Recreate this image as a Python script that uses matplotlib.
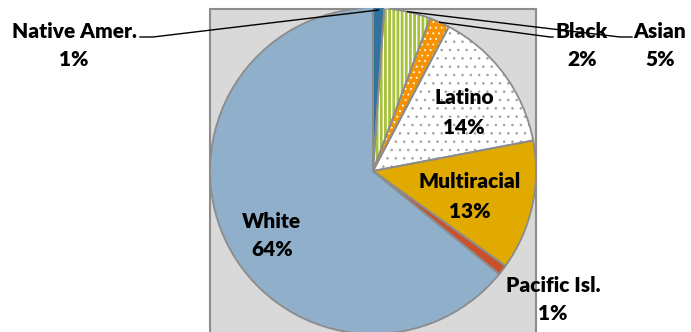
import matplotlib
matplotlib.use("Agg")
import matplotlib.pyplot as plt
from matplotlib.patches import Rectangle, Wedge
import numpy as np

groups = ['Native Amer.', 'Asian', 'Black', 'Latino', 'Multiracial', 'Pacific Isl.', 'White']
shares = [1.1, 4.6, 2.0, 14.3, 12.9, 1.0, 64.1]
pct_labels = ['1%', '5%', '2%', '14%', '13%', '1%', '64%']
colors = ['#31739c', '#ffffff', '#f79200', '#ffffff', '#e0aa00', '#c9502a', '#8fafca']
hatches = [None, '||||', '...', '..', None, None, None]
hatch_cols = [None, '#a6c23b', '#ffffff', '#a0a0a0', None, None, None]

H = 332
def Y(y):  # image row -> data y
    return H - y

plt.rcParams['font.family'] = ['Lato', 'DejaVu Sans']
fig = plt.figure(figsize=(6.91, 3.32), dpi=100)
ax = fig.add_axes([0, 0, 1, 1])

box = Rectangle((210, Y(335)), 326, 326, facecolor='#d9d9d9', edgecolor='#8c8c8c', lw=1.5, zorder=0)
ax.add_patch(box)
clip = Rectangle((210, Y(335)), 326, 326, transform=ax.transData, fill=False)

cx, cy, r = 373, Y(171), 163
wedges, _ = ax.pie(shares, colors=colors, startangle=90, counterclock=False,
                   center=(cx, cy), radius=r, frame=True,
                   wedgeprops=dict(edgecolor='none', linewidth=0))
ax.set_xlim(0, 691)
ax.set_ylim(0, H)
ax.set_aspect('equal')
ax.axis('off')
for w in wedges:
    w.set_clip_path(clip)

for w, h, hc in zip(wedges, hatches, hatch_cols):
    if h is None:
        continue
    lw = 2.0 if h.startswith('|') else 0.6
    with plt.rc_context({'hatch.linewidth': lw}):
        hw = Wedge((cx, cy), r, w.theta1, w.theta2, facecolor='none', edgecolor=hc, lw=0, hatch=h, zorder=2)
    if hasattr(hw, 'set_hatch_linewidth'):
        hw.set_hatch_linewidth(lw)
    ax.add_patch(hw)
    hw.set_clip_path(clip)

for w in wedges:
    ow = Wedge((cx, cy), r, w.theta1, w.theta2, facecolor='none', edgecolor='#8c8c8c', lw=1.3, zorder=3)
    ax.add_patch(ow)
    ow.set_clip_path(clip)

# label positions (image px)
pos = {
    'Native Amer.': (74, 31),
    'Asian': (660, 31),
    'Black': (582, 31),
    'Latino': (464, 98),
    'Multiracial': (470, 182),
    'Pacific Isl.': (553, 285),
    'White': (272, 221),
}
for g, p in zip(groups, pct_labels):
    x, y = pos[g]
    ax.text(x, Y(y), g, ha='center', va='center', fontsize=15, fontweight='heavy', zorder=5)
    ax.text(x, Y(y + 29), p, ha='center', va='center', fontsize=15, fontweight='heavy', zorder=5)

# leader lines
def mid_point(w):
    a = np.deg2rad((w.theta1 + w.theta2) / 2)
    return cx + r * np.cos(a), cy + r * np.sin(a)

nx, ny = mid_point(wedges[0])
ax.plot([nx, 153, 140], [min(ny, Y(10)), Y(37), Y(37)], color='black', lw=1, zorder=4)
ax_, ay_ = mid_point(wedges[1])
ax.plot([ax_, 620, 632], [min(ay_, Y(10)), Y(37), Y(37)], color='black', lw=1, zorder=6)
bx, by = mid_point(wedges[2])
ax.plot([bx, 550, 553], [by, Y(37), Y(37)], color='black', lw=1, zorder=4)

fig.savefig('out.png', dpi=100)
